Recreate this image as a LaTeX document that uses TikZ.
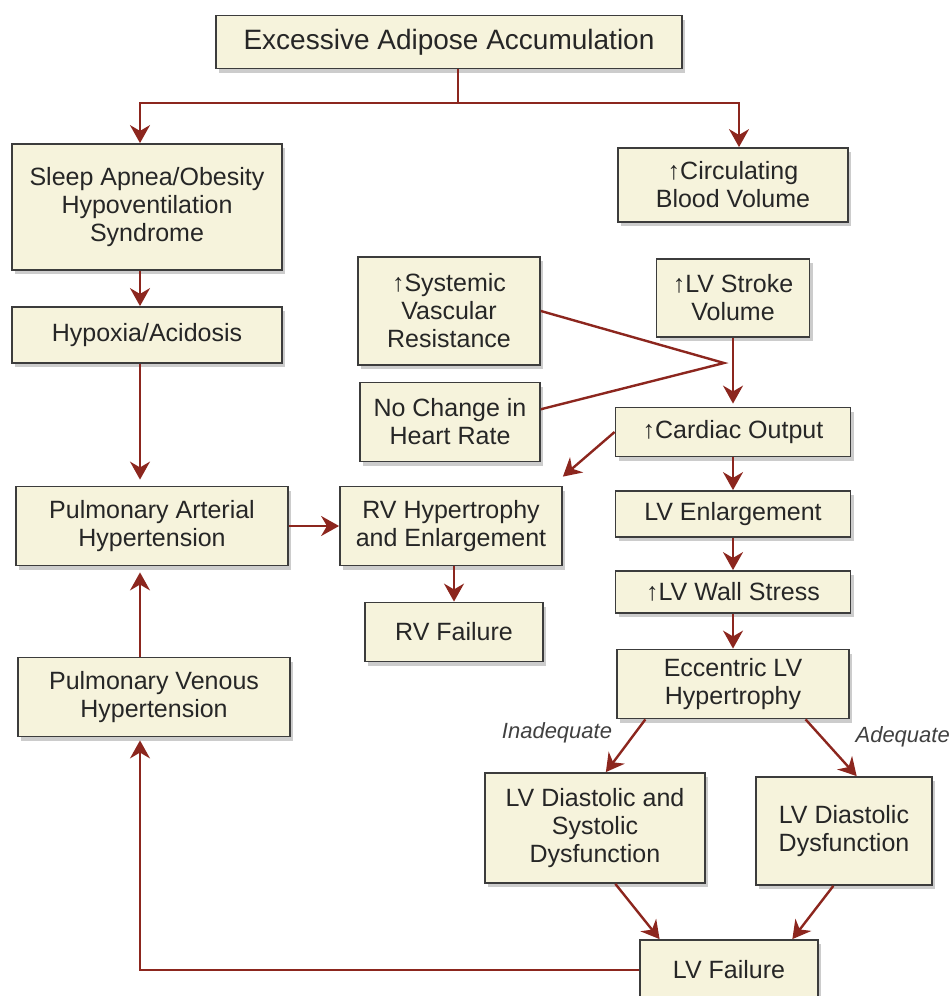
\documentclass[tikz,border=0pt]{standalone}
\usepackage{fontspec}
\setmainfont{Liberation Sans}
\usetikzlibrary{arrows.meta,shadows}
\definecolor{boxfill}{RGB}{246,243,220}
\definecolor{boxline}{RGB}{60,60,60}
\definecolor{linkred}{RGB}{140,38,30}
\newcommand{\boxfont}{\fontsize{25}{28}\selectfont}
\tikzset{
	box/.style 2 args={draw=boxline,line width=1.8pt,fill=boxfill,text=black!85,minimum width=#1,minimum height=#2,inner sep=0pt,align=center,font=\boxfont,drop shadow={shadow xshift=3pt,shadow yshift=-4pt,opacity=0.4}},
	link/.style={draw=linkred,line width=2.4pt},
	arrow/.style={link,-{Stealth[length=18pt,width=20pt]}},
	cond/.style={font=\fontsize{22}{24}\selectfont\itshape,text=black!75}
}

\begin{document}
\begin{tikzpicture}[x=1pt,y=-1pt]
	\useasboundingbox (0,0) rectangle (951,996);

	\node [box={466pt}{53pt},font=\fontsize{28}{30}\selectfont] (adipose) at (449,42) {Excessive Adipose Accumulation};
	\node [box={270pt}{126pt}] (apnea) at (147,207) {Sleep Apnea/Obesity\\Hypoventilation\\Syndrome};
	\node [box={230pt}{74pt}] (blood) at (733,185) {↑Circulating\\Blood Volume};
	\node [box={270pt}{56pt}] (hypoxia) at (147,335) {Hypoxia/Acidosis};
	\node [box={182pt}{108pt}] (svr) at (449,311) {↑Systemic\\Vascular\\Resistance};
	\node [box={153pt}{78pt}] (stroke) at (733,298) {↑LV Stroke\\Volume};
	\node [box={180pt}{79pt}] (rate) at (450,422) {No Change in\\Heart Rate};
	\node [box={235pt}{49pt}] (output) at (733,432) {↑Cardiac Output};
	\node [box={272pt}{79pt}] (pah) at (152,526) {Pulmonary Arterial\\Hypertension};
	\node [box={222pt}{79pt}] (rvh) at (451,526) {RV Hypertrophy\\and Enlargement};
	\node [box={235pt}{46pt}] (lvenl) at (733,514) {LV Enlargement};
	\node [box={178pt}{59pt}] (rvf) at (454,632) {RV Failure};
	\node [box={235pt}{42pt}] (stress) at (733,592) {↑LV Wall Stress};
	\node [box={232pt}{69pt}] (ecc) at (733,684) {Eccentric LV\\Hypertrophy};
	\node [box={272pt}{79pt}] (pvh) at (154,697) {Pulmonary Venous\\Hypertension};
	\node [box={220pt}{110pt}] (lvds) at (595,828) {LV Diastolic and\\Systolic\\Dysfunction};
	\node [box={176pt}{108pt}] (lvdd) at (844,831) {LV Diastolic\\Dysfunction};
	\node [box={178pt}{60pt}] (lvf) at (729,970) {LV Failure};

	\node [cond] (inadequate) at (557,733) {Inadequate};
	\node [cond,anchor=east,inner xsep=1pt] (adequate) at (951,737) {Adequate};

	\coordinate (split) at (458,103);
	\coordinate (lcol) at (140,0);
	\coordinate (rcol) at (739,0);
	\coordinate (merge) at (724,363);

	\draw [link] (split |- adipose.south) -- (split);
	\draw [arrow] (split) -| (lcol |- apnea.north);
	\draw [arrow] (split) -| (rcol |- blood.north);

	\draw [arrow] (lcol |- apnea.south) -- (lcol |- hypoxia.north);
	\draw [arrow] (lcol |- hypoxia.south) -- ([yshift=6pt]lcol |- pah.north);
	\draw [arrow] (lcol |- pvh.north) -- ([yshift=-6pt]lcol |- pah.south);
	\draw [arrow] (lvf.west) -| ([yshift=-3pt]lcol |- pvh.south);

	\draw [arrow] (pah.east) -- (rvh.west);
	\draw [arrow] (rvf.north |- rvh.south) -- (rvf.north);

	\draw [link] (svr.east) -- (merge) -- (rate.8);
	\draw [arrow] (stroke.south) -- ([yshift=3pt]output.north);
	\draw [arrow] (output.west) -- ([yshift=9pt]rvh.north east);
	\draw [arrow] (output.south) -- (lvenl.north);
	\draw [arrow] (lvenl.south) -- (stress.north);
	\draw [arrow] (stress.south) -- (ecc.north);

	\draw [arrow] (ecc.202) -- (lvds.79);
	\draw [arrow] (ecc.334) -- (lvdd.77);
	\draw [arrow] (lvds.290) -- (lvf.156);
	\draw [arrow] (lvdd.259) -- (lvf.26);
\end{tikzpicture}
\end{document}
